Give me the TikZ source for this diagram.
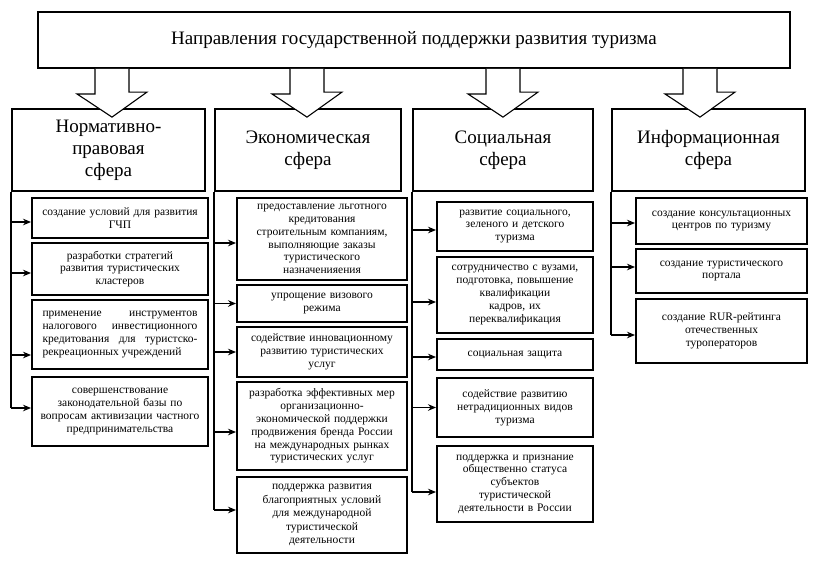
\documentclass[tikz,border=0pt]{standalone}
\usepackage{fontspec}
\setmainfont{Liberation Serif}
\usetikzlibrary{arrows.meta}

\tikzset{
  head/.style={draw, line width=1.8pt, align=center, inner sep=2pt, minimum height=82pt,
    font=\fontsize{19}{22}\selectfont},
  cell/.style={draw, line width=1.9pt, align=center, inner sep=1.5pt,
    font=\fontsize{11.5}{12.8}\selectfont},
  colA/.style={cell, minimum width=176pt, text width=173pt},
  colB/.style={cell, minimum width=170pt, text width=167pt},
  colC/.style={cell, minimum width=156pt, text width=153pt},
  colD/.style={cell, minimum width=171pt, text width=168pt},
  link/.style={line width=1.8pt, -{Stealth[length=8pt,width=6.5pt]}},
  trunk/.style={line width=1.8pt},
  bigarrow/.style={draw, fill=white, line width=1.1pt}
}

\begin{document}
\begin{tikzpicture}[x=1pt,y=-1pt]
\useasboundingbox (0,0) rectangle (815,571);

% title
\node[draw, line width=1.9pt, minimum width=752pt, minimum height=56pt,
  font=\fontsize{19}{22}\selectfont] (t) at (414,40) {Направления государственной поддержки развития туризма};

% spheres
\node[head, minimum width=193pt] (h1) at (108.5,150) {Нормативно-\\правовая\\сфера};
\node[head, minimum width=186pt] (h2) at (308,150) {Экономическая\\сфера};
\node[head, minimum width=180pt] (h3) at (503,150) {Социальная\\сфера};
\node[head, minimum width=193pt] (h4) at (708.5,150) {Информационная\\сфера};

% block arrows
\foreach \x/\n in {112/1,307/2,503/3,700/4}{
  \coordinate (s\n) at (t.south -| \x,0);
  \draw[bigarrow] ([xshift=-17pt]s\n) -- ++(0,25) -- ++(-18,0) -- ([yshift=-9pt]s\n |- h\n.north)
    -- ++(35,-25) -- ++(-18,0) -- ([xshift=17pt]s\n);
}

% normative sphere
\node[colA, minimum height=40pt] (a1) at (120,218) {создание условий для развития\\ГЧП};
\node[colA, minimum height=52pt] (a2) at (120,269) {разработки стратегий\\развития туристических\\кластеров};
\node[cell, minimum height=69pt, align=justify, text width=155pt, inner xsep=10.5pt] (a3) at (120,334.5) {применение инструментов\linebreak налогового инвестиционного\linebreak кредитования для туристско-\linebreak рекреационных учреждений};
\node[colA, minimum height=69pt] (a4) at (120,411.5) {совершенствование\\законодательной базы по\\вопросам активизации частного\\предпринимательства};

% economic sphere
\node[colB, minimum height=82pt] (b1) at (322,239) {предоставление льготного\\кредитования\\строительным компаниям,\\выполняющие заказы\\туристического\\назначенияения};
\node[colB, minimum height=37pt] (b2) at (322,303.5) {упрощение визового\\режима};
\node[colB, minimum height=50pt] (b3) at (322,352) {содействие инновационному\\развитию туристических\\услуг};
\node[colB, minimum height=88pt] (b4) at (322,426) {разработка эффективных мер\\организационно-\\экономической поддержки\\продвижения бренда России\\на международных рынках\\туристических услуг};
\node[colB, minimum height=76pt, font=\fontsize{11.5}{13.4}\selectfont] (b5) at (322,515) {поддержка развития\\благоприятных условий\\для международной\\туристической\\деятельности};

% social sphere
\node[colC, minimum height=49pt] (c1) at (515,226.5) {развитие социального,\\зеленого и детского\\туризма};
\node[colC, minimum height=76pt] (c2) at (515,295) {сотрудничество с вузами,\\подготовка, повышение\\квалификации\\кадров, их\\переквалификация};
\node[colC, minimum height=31pt] (c3) at (515,354.5) {социальная защита};
\node[colC, minimum height=59pt] (c4) at (515,407.5) {содействие развитию\\нетрадиционных видов\\туризма};
\node[colC, minimum height=76pt] (c5) at (515,484) {поддержка и признание\\общественно статуса\\субъектов\\туристической\\деятельности в России};

% information sphere
\node[colD, minimum height=46pt] (d1) at (721.5,221) {создание консультационных\\центров по туризму};
\node[colD, minimum height=44pt] (d2) at (721.5,271) {создание туристического\\портала};
\node[colD, minimum height=64pt] (d3) at (721.5,331) {создание RUR-рейтинга\\отечественных\\туроператоров};

% arrow points
\coordinate (pa1) at ([yshift=-4pt]a1.west);
\coordinate (pa2) at ([yshift=-4pt]a2.west);
\coordinate (pa3) at ([yshift=-20.5pt]a3.west);
\coordinate (pa4) at ([yshift=3.5pt]a4.west);
\coordinate (pb1) at ([yshift=-4pt]b1.west);
\coordinate (pb2) at (b2.west);
\coordinate (pb3) at (b3.west);
\coordinate (pb4) at ([yshift=-6pt]b4.west);
\coordinate (pb5) at ([yshift=5pt]b5.west);
\coordinate (pc1) at ([yshift=-3.5pt]c1.west);
\coordinate (pc2) at ([yshift=-7pt]c2.west);
\coordinate (pc3) at ([yshift=-2.5pt]c3.west);
\coordinate (pc4) at (c4.west);
\coordinate (pc5) at ([yshift=-8pt]c5.west);
\coordinate (pd1) at ([yshift=-2pt]d1.west);
\coordinate (pd2) at ([yshift=4pt]d2.west);
\coordinate (pd3) at ([yshift=-4pt]d3.west);

% trunks
\draw[trunk] (h1.south west) -- (h1.south west |- pa4);
\draw[trunk] (h2.south west) -- (h2.south west |- pb5);
\draw[trunk] (h3.south west) -- (h3.south west |- pc5);
\draw[trunk] (h4.south west) -- (h4.south west |- pd3);

% links
\foreach \p in {a1,a2,a3,a4}
  \draw[link] (h1.south west |- p\p) -- (p\p);
\foreach \p in {b1,b2,b3,b4,b5}
  \draw[link] (h2.south west |- p\p) -- (p\p);
\foreach \p in {c1,c2,c3,c4,c5}
  \draw[link] (h3.south west |- p\p) -- (p\p);
\foreach \p in {d1,d2,d3}
  \draw[link] (h4.south west |- p\p) -- (p\p);
\end{tikzpicture}
\end{document}
